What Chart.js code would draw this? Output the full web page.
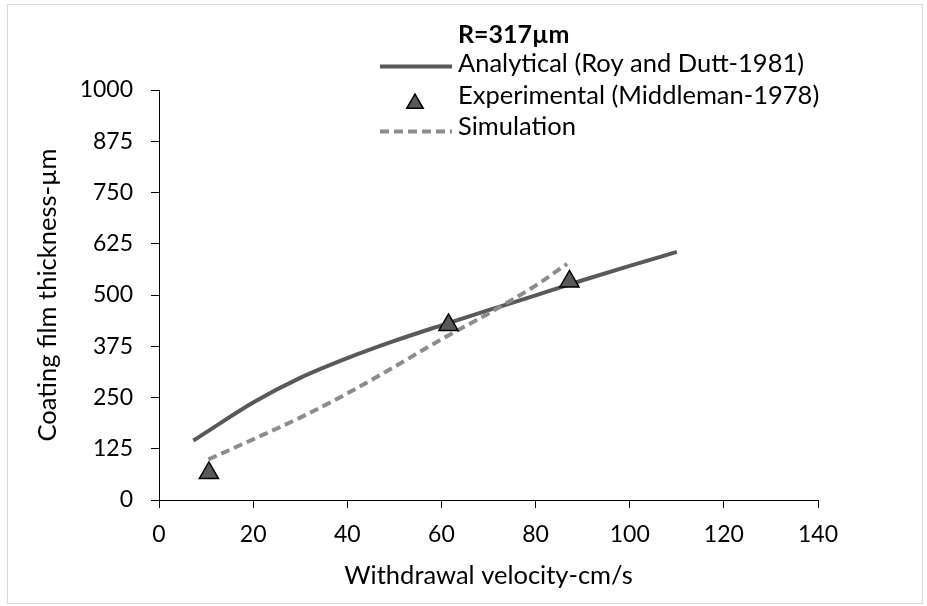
<!DOCTYPE html>
<html>
<head>
<meta charset="utf-8">
<script src="https://cdn.jsdelivr.net/npm/chart.js@4.4.0/dist/chart.umd.min.js"></script>
<style>
  html, body { margin: 0; padding: 0; background: #fff; }
  #wrap { width: 927px; height: 606px; }
</style>
</head>
<body>
<div id="wrap"><canvas id="coatingChart" width="927" height="606"></canvas></div>
<script>
const FONT = "Lato, 'Open Sans', sans-serif";

const chartTitle = "R=317µm";
const seriesNames = ["Analytical (Roy and Dutt-1981)", "Experimental (Middleman-1978)", "Simulation"];

// withdrawal velocity (cm/s) and film thickness (µm)
const analyticalX = [7.3, 10, 20, 30, 40, 50, 60, 70, 80, 90, 100, 110];
const analyticalY = [145, 165, 238, 298, 346, 388, 426, 463, 499, 536, 571, 605];
const experimentalX = [10.6, 61.5, 87.2];
const experimentalY = [66, 427, 533];
const simulationX = [10.5, 20, 30, 40, 50, 60, 70, 80, 86.7];
const simulationY = [99, 148, 201, 260, 325, 392, 455, 523, 576];

const xTicks = [0, 20, 40, 60, 80, 100, 120, 140];
const yTicks = [0, 125, 250, 375, 500, 625, 750, 875, 1000];

function toPoints(xs, ys) {
    return xs.map((x, i) => ({ x: x, y: ys[i] }));
}

// legend drawn by hand so it can sit over the top of the plot like in the figure
const sideLegend = {
    id: "sideLegend",
    afterDraw(chart) {
        const ctx = chart.ctx;
        const ds = chart.data.datasets;
        ctx.save();

        // thin frame round the picture
        ctx.strokeStyle = "#d9d9d9";
        ctx.lineWidth = 1;
        ctx.strokeRect(7.5, 4.5, 915, 599);

        ctx.fillStyle = "#000";
        ctx.textBaseline = "alphabetic";
        ctx.textAlign = "left";
        ctx.font = "bold 25px " + FONT;
        ctx.fillText(chartTitle, 458, 43);

        ctx.font = "25.5px " + FONT;
        const textX = 458;
        const rows = [71.5, 103.5, 135];

        // analytical: solid line
        ctx.strokeStyle = ds[0].borderColor;
        ctx.lineWidth = ds[0].borderWidth;
        ctx.beginPath();
        ctx.moveTo(380, 66.5);
        ctx.lineTo(452, 66.5);
        ctx.stroke();
        ctx.fillText(seriesNames[0], textX, rows[0]);

        // experimental: triangle marker
        ctx.fillStyle = ds[1].pointBackgroundColor;
        ctx.strokeStyle = ds[1].pointBorderColor;
        ctx.lineWidth = 1.5;
        Chart.helpers.drawPoint(ctx, { pointStyle: "triangle", radius: 9.5, borderWidth: 1.5 }, 415, 103.5);
        ctx.fillStyle = "#000";
        ctx.fillText(seriesNames[1], textX, rows[1]);

        // simulation: dashed line
        ctx.strokeStyle = ds[2].borderColor;
        ctx.lineWidth = ds[2].borderWidth;
        ctx.setLineDash(ds[2].borderDash);
        ctx.beginPath();
        ctx.moveTo(380, 131.5);
        ctx.lineTo(452, 131.5);
        ctx.stroke();
        ctx.setLineDash([]);
        ctx.fillText(seriesNames[2], textX, rows[2]);

        ctx.restore();
    }
};

const ctx = document.getElementById("coatingChart").getContext("2d");

new Chart(ctx, {
    type: "scatter",
    data: {
        datasets: [
            {
                label: seriesNames[0],
                data: toPoints(analyticalX, analyticalY),
                showLine: true,
                borderColor: "#595959",
                borderWidth: 4,
                pointRadius: 0,
                cubicInterpolationMode: "monotone",
                order: 3
            },
            {
                label: seriesNames[1],
                data: toPoints(experimentalX, experimentalY),
                showLine: false,
                pointStyle: "triangle",
                pointRadius: 11,
                pointBackgroundColor: "#595959",
                pointBorderColor: "#000",
                pointBorderWidth: 1.5,
                order: 1
            },
            {
                label: seriesNames[2],
                data: toPoints(simulationX, simulationY),
                showLine: true,
                borderColor: "#8c8c8c",
                borderWidth: 4,
                borderDash: [9, 5],
                pointRadius: 0,
                cubicInterpolationMode: "monotone",
                order: 2
            }
        ]
    },
    options: {
        responsive: false,
        animation: false,
        layout: { padding: { top: 90, right: 109, bottom: 0, left: 0 } },
        plugins: {
            legend: { display: false },
            tooltip: { enabled: false }
        },
        scales: {
            x: {
                type: "linear",
                min: 0,
                max: 140,
                afterBuildTicks: (axis) => { axis.ticks = xTicks.map(v => ({ value: v })); },
                afterFit: (axis) => { axis.height = 106; },
                border: { color: "#000", width: 1 },
                grid: { drawOnChartArea: false, drawTicks: true, tickLength: 8, color: "#000" },
                ticks: {
                    color: "#000",
                    font: { family: FONT, size: 23 },
                    padding: 13,
                    maxRotation: 0,
                    callback: (v) => String(v)
                },
                title: {
                    display: true,
                    text: "Withdrawal velocity-cm/s",
                    color: "#000",
                    font: { family: FONT, size: 25.5 },
                    padding: { top: 0, bottom: 14.5 }
                }
            },
            y: {
                type: "linear",
                min: 0,
                max: 1000,
                afterBuildTicks: (axis) => { axis.ticks = yTicks.map(v => ({ value: v })); },
                afterFit: (axis) => { axis.width = 159; },
                border: { color: "#000", width: 1 },
                grid: { drawOnChartArea: false, drawTicks: true, tickLength: 8, color: "#000" },
                ticks: {
                    color: "#000",
                    font: { family: FONT, size: 23 },
                    padding: 18,
                    callback: (v) => String(v)
                },
                title: {
                    display: true,
                    text: "Coating film thickness-µm",
                    color: "#000",
                    font: { family: FONT, size: 25.5 },
                    padding: { top: 32, bottom: 0 }
                }
            }
        }
    },
    plugins: [sideLegend]
});
</script>
</body>
</html>
